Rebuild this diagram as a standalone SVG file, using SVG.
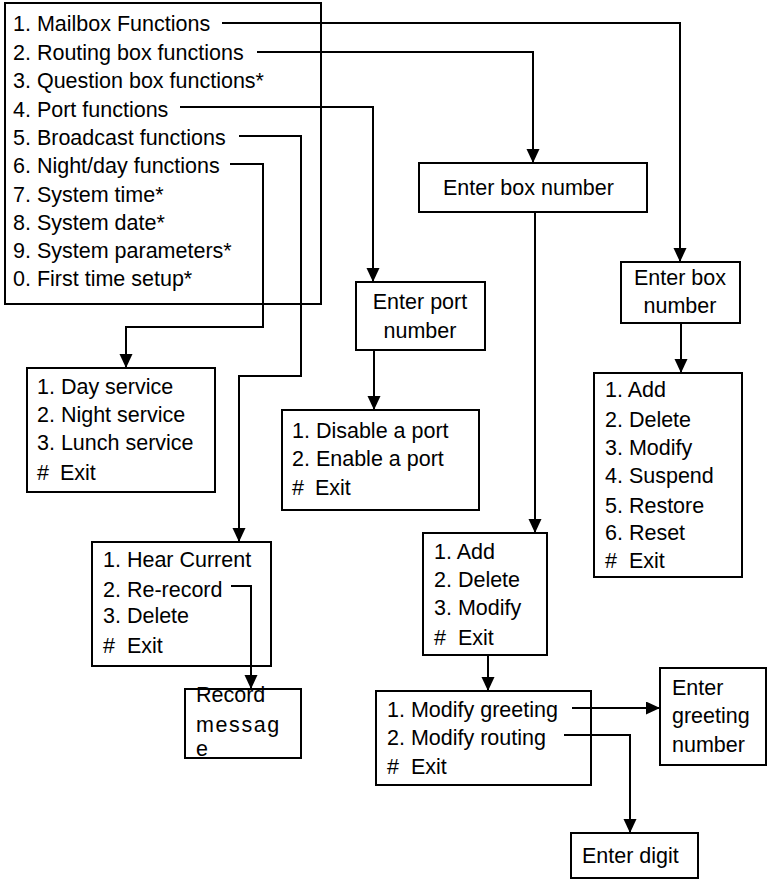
<svg xmlns="http://www.w3.org/2000/svg" width="767" height="882" viewBox="0 0 767 882">
<style>
  .box { fill: #fff; stroke: #000; stroke-width: 2; }
  .t { font-family: "Liberation Sans", Arial, sans-serif; font-size: 21.5px; fill: #000; }
  .c { text-anchor: middle; }
  .ln { fill: none; stroke: #000; stroke-width: 2; }
</style>
<defs>
  <marker id="arr" markerUnits="userSpaceOnUse" markerWidth="15" markerHeight="14" refX="14" refY="6.5" orient="auto">
    <path d="M0,0 L14,6.5 L0,13 z" fill="#000"/>
  </marker>
</defs>
<rect width="767" height="882" fill="#fff"/>

<g id="main-menu">
  <rect class="box" x="5" y="3" width="316" height="301"/>
  <text class="t" x="13" y="31">1. Mailbox Functions</text>
  <text class="t" x="13" y="60">2. Routing box functions</text>
  <text class="t" x="13" y="88">3. Question box functions*</text>
  <text class="t" x="13" y="117">4. Port functions</text>
  <text class="t" x="13" y="145">5. Broadcast functions</text>
  <text class="t" x="13" y="173">6. Night/day functions</text>
  <text class="t" x="13" y="202">7. System time*</text>
  <text class="t" x="13" y="230">8. System date*</text>
  <text class="t" x="13" y="258">9. System parameters*</text>
  <text class="t" x="13" y="286">0. First time setup*</text>
</g>

<g id="day-menu">
  <rect class="box" x="27" y="368" width="188" height="124"/>
  <text class="t" x="37" y="394">1. Day service</text>
  <text class="t" x="37" y="422">2. Night service</text>
  <text class="t" x="37" y="450">3. Lunch service</text>
  <text class="t" x="37" y="480">#<tspan x="60">Exit</tspan></text>
</g>

<g id="enter-port">
  <rect class="box" x="356" y="282" width="129" height="68"/>
  <text class="t c" x="420" y="309">Enter port</text>
  <text class="t c" x="420" y="338">number</text>
</g>

<g id="port-menu">
  <rect class="box" x="282" y="410" width="197" height="100"/>
  <text class="t" x="292" y="438">1. Disable a port</text>
  <text class="t" x="292" y="466">2. Enable a port</text>
  <text class="t" x="292" y="495">#<tspan x="315">Exit</tspan></text>
</g>

<g id="enter-box-routing">
  <rect class="box" x="419" y="163" width="228" height="49"/>
  <text class="t" x="443" y="195">Enter box number</text>
</g>

<g id="routing-menu">
  <rect class="box" x="423" y="533" width="124" height="122"/>
  <text class="t" x="434" y="559">1. Add</text>
  <text class="t" x="434" y="587">2. Delete</text>
  <text class="t" x="434" y="615">3. Modify</text>
  <text class="t" x="434" y="645">#<tspan x="458">Exit</tspan></text>
</g>

<g id="modify-menu">
  <rect class="box" x="376" y="691" width="215" height="94"/>
  <text class="t" x="387" y="717">1. Modify greeting</text>
  <text class="t" x="387" y="745">2. Modify routing</text>
  <text class="t" x="387" y="774">#<tspan x="411">Exit</tspan></text>
</g>

<g id="enter-greeting">
  <rect class="box" x="660" y="668" width="106" height="97"/>
  <text class="t" x="672" y="695">Enter</text>
  <text class="t" x="672" y="723">greeting</text>
  <text class="t" x="672" y="752">number</text>
</g>

<g id="enter-digit">
  <rect class="box" x="571" y="833" width="127" height="45"/>
  <text class="t" x="582" y="863">Enter digit</text>
</g>

<g id="enter-box-mailbox">
  <rect class="box" x="621" y="262" width="119" height="61"/>
  <text class="t c" x="680" y="285">Enter box</text>
  <text class="t c" x="680" y="313">number</text>
</g>

<g id="mailbox-menu">
  <rect class="box" x="594" y="373" width="148" height="204"/>
  <text class="t" x="605" y="397">1. Add</text>
  <text class="t" x="605" y="427">2. Delete</text>
  <text class="t" x="605" y="455">3. Modify</text>
  <text class="t" x="605" y="483">4. Suspend</text>
  <text class="t" x="605" y="513">5. Restore</text>
  <text class="t" x="605" y="540">6. Reset</text>
  <text class="t" x="605" y="568">#<tspan x="629">Exit</tspan></text>
</g>

<g id="broadcast-menu">
  <rect class="box" x="92" y="542" width="179" height="124"/>
  <text class="t" x="103" y="567">1. Hear Current</text>
  <text class="t" x="103" y="597">2. Re-record</text>
  <text class="t" x="103" y="623">3. Delete</text>
  <text class="t" x="103" y="653">#<tspan x="127">Exit</tspan></text>
</g>

<g id="record-message">
  <rect class="box" x="185" y="689" width="116" height="69"/>
  <text class="t" x="196" y="702">Record</text>
  <text class="t" x="196" y="732" letter-spacing="1.6">messag</text>
  <text class="t" x="196" y="756">e</text>
</g>

<g id="connectors">
  <path class="ln" d="M222,23 H680 V262" marker-end="url(#arr)"/>
  <path class="ln" d="M257,52 H533 V163" marker-end="url(#arr)"/>
  <path class="ln" d="M180,107 H373 V282" marker-end="url(#arr)"/>
  <path class="ln" d="M239,136 H301 V376 H239 V542" marker-end="url(#arr)"/>
  <path class="ln" d="M230,164 H263 V327 H126 V368" marker-end="url(#arr)"/>
  <path class="ln" d="M374,350 V410" marker-end="url(#arr)"/>
  <path class="ln" d="M535,212 V533" marker-end="url(#arr)"/>
  <path class="ln" d="M681,323 V373" marker-end="url(#arr)"/>
  <path class="ln" d="M488,655 V691" marker-end="url(#arr)"/>
  <path class="ln" d="M572,708 H660" marker-end="url(#arr)"/>
  <path class="ln" d="M564,735 H630 V833" marker-end="url(#arr)"/>
  <path class="ln" d="M231,586 H251 V689" marker-end="url(#arr)"/>
</g>
</svg>
